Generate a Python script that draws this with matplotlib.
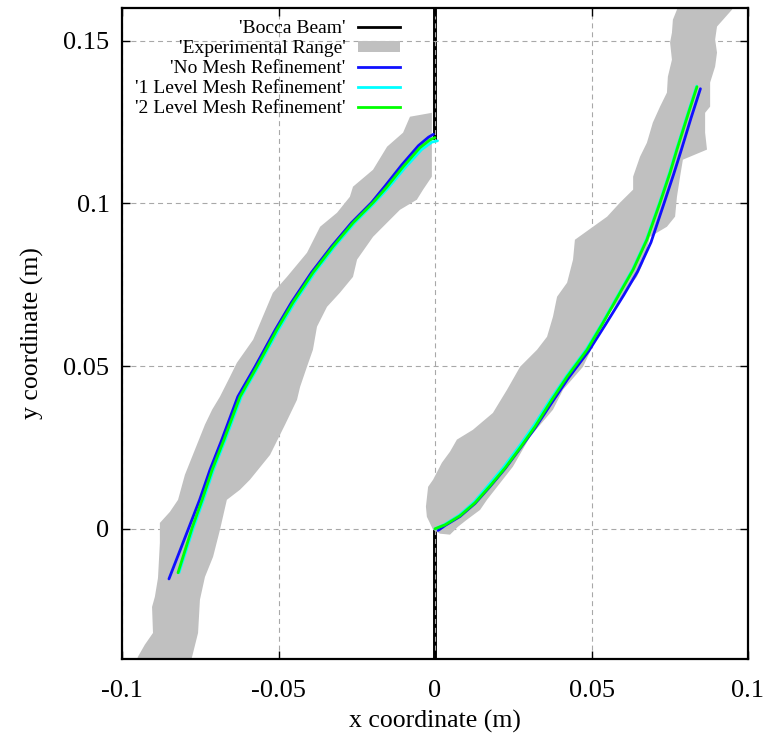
#!/usr/bin/env python3
"""
plot.py

Beam deflection: simulated centre lines (three mesh levels) against the
experimental envelope, with the Bocca beam stub at x = 0.
Writes out.png.
"""

import numpy as np
import matplotlib
matplotlib.use("Agg")
import matplotlib.pyplot as plt
from matplotlib.patches import Polygon, Patch
from matplotlib.lines import Line2D

# ---------------------------------------------------------------- data (m)
# Bocca beam stub (two visible pieces on x = 0)
beam_x = [0.0, 0.0, np.nan, 0.0, 0.0]
beam_y = [-0.045, 0.0, np.nan, 0.120, 0.165]

# experimental envelope, left lobe (outline, closed)
exp_left_x = [-0.0958, -0.0949, -0.0927, -0.0901, -0.0904, -0.0895, -0.0885, -0.0879,
              -0.0879, -0.0847, -0.0821, -0.0799, -0.0767, -0.0735, -0.0712, -0.0687,
              -0.0655, -0.0633, -0.0581, -0.0550, -0.0518, -0.0473, -0.0409, -0.0367,
              -0.0313, -0.0272, -0.0262, -0.0198, -0.0153, -0.0102, -0.0080, -0.0010,
              -0.0010, -0.0038, -0.0058, -0.0112, -0.0166, -0.0198, -0.0249, -0.0262,
              -0.0304, -0.0345, -0.0377, -0.0390, -0.0409, -0.0431, -0.0441, -0.0479,
              -0.0527, -0.0591, -0.0623, -0.0665, -0.0687, -0.0709, -0.0735, -0.0751,
              -0.0757, -0.0776, -0.0783]
exp_left_y = [-0.0418, -0.0393, -0.0356, -0.0320, -0.0240, -0.0209, -0.0151, -0.0043,
              0.0018, 0.0052, 0.0089, 0.0166, 0.0243, 0.0320, 0.0366, 0.0406,
              0.0467, 0.0510, 0.0581, 0.0652, 0.0725, 0.0774, 0.0848, 0.0928,
              0.0971, 0.1020, 0.1051, 0.1103, 0.1174, 0.1217, 0.1266, 0.1278,
              0.1082, 0.1042, 0.1011, 0.0980, 0.0928, 0.0897, 0.0827, 0.0774,
              0.0725, 0.0682, 0.0621, 0.0550, 0.0498, 0.0436, 0.0396, 0.0320,
              0.0227, 0.0151, 0.0120, 0.0089, -0.0003, -0.0086, -0.0148, -0.0218,
              -0.0320, -0.0393, -0.0418]

# experimental envelope, right lobe (outline, closed)
exp_right_x = [-0.0006, -0.0026, -0.0029, -0.0022, -0.0006, 0.0022, 0.0048, 0.0070,
               0.0121, 0.0185, 0.0230, 0.0272, 0.0326, 0.0358, 0.0377, 0.0390,
               0.0422, 0.0441, 0.0447, 0.0505, 0.0550, 0.0591, 0.0633, 0.0633,
               0.0655, 0.0677, 0.0696, 0.0719, 0.0741, 0.0744, 0.0757, 0.0751,
               0.0757, 0.0760, 0.0773, 0.0776, 0.0958,
               0.0949, 0.0901, 0.0895, 0.0901, 0.0895, 0.0879, 0.0879, 0.0863,
               0.0863, 0.0869, 0.0792, 0.0783, 0.0773, 0.0767, 0.0741, 0.0687,
               0.0665, 0.0645, 0.0613, 0.0559, 0.0518, 0.0473, 0.0409, 0.0377,
               0.0304, 0.0249, 0.0166, 0.0144, 0.0102, 0.0073, 0.0048, 0.0016]
exp_right_y = [-0.0003, 0.0037, 0.0068, 0.0129, 0.0151, 0.0203, 0.0237, 0.0274,
               0.0304, 0.0356, 0.0427, 0.0498, 0.0550, 0.0590, 0.0652, 0.0713,
               0.0756, 0.0827, 0.0888, 0.0928, 0.0959, 0.1002, 0.1042, 0.1082,
               0.1143, 0.1186, 0.1248, 0.1297, 0.1340, 0.1389, 0.1441, 0.1494,
               0.1524, 0.1564, 0.1595, 0.1626, 0.1626,
               0.1595, 0.1543, 0.1503, 0.1463, 0.1420, 0.1371, 0.1297, 0.1278,
               0.1217, 0.1165, 0.1134, 0.1082, 0.1020, 0.0959, 0.0928, 0.0897,
               0.0817, 0.0774, 0.0734, 0.0664, 0.0590, 0.0498, 0.0427, 0.0366,
               0.0283, 0.0191, 0.0089, 0.0058, 0.0028, 0.0006, -0.0018, -0.0015]

# no mesh refinement
nomesh_left_x = [-0.0850, -0.0789, -0.0752, -0.0719, -0.0681, -0.0630, -0.0575, -0.0510,
                 -0.0459, -0.0395, -0.0331, -0.0267, -0.0203, -0.0158, -0.0107, -0.0053,
                 -0.0021, -0.0005]
nomesh_left_y = [-0.0154, -0.0003, 0.0089, 0.0181, 0.0274, 0.0406, 0.0498, 0.0612,
                 0.0695, 0.0787, 0.0867, 0.0940, 0.1002, 0.1055, 0.1117, 0.1177,
                 0.1203, 0.1212]
nomesh_right_x = [0.0010, 0.0032, 0.0080, 0.0128, 0.0176, 0.0224, 0.0272, 0.0320,
                  0.0370, 0.0426, 0.0491, 0.0545, 0.0603, 0.0647, 0.0690, 0.0730,
                  0.0762, 0.0785, 0.0818, 0.0848]
nomesh_right_y = [-0.0005, 0.0010, 0.0038, 0.0078, 0.0130, 0.0185, 0.0247, 0.0310,
                  0.0383, 0.0463, 0.0546, 0.0628, 0.0718, 0.0790, 0.0880, 0.0995,
                  0.1088, 0.1158, 0.1262, 0.1352]

# 1 level mesh refinement
lvl1_left_x = [-0.0818, -0.0772, -0.0740, -0.0708, -0.0670, -0.0619, -0.0565, -0.0500,
               -0.0449, -0.0385, -0.0321, -0.0257, -0.0193, -0.0148, -0.0097, -0.0043,
               -0.0010, 0.0008]
lvl1_left_y = [-0.0135, 0.0003, 0.0089, 0.0181, 0.0274, 0.0406, 0.0498, 0.0612,
               0.0695, 0.0787, 0.0867, 0.0940, 0.1002, 0.1049, 0.1108, 0.1165,
               0.1188, 0.1192]
lvl1_right_x = [0.0000, 0.0030, 0.0078, 0.0125, 0.0172, 0.0220, 0.0268, 0.0315,
                0.0364, 0.0420, 0.0484, 0.0536, 0.0590, 0.0632, 0.0676, 0.0718,
                0.0750, 0.0772, 0.0807, 0.0836]
lvl1_right_y = [0.0000, 0.0013, 0.0042, 0.0082, 0.0135, 0.0190, 0.0252, 0.0316,
                0.0390, 0.0469, 0.0552, 0.0635, 0.0727, 0.0798, 0.0890, 0.1004,
                0.1096, 0.1167, 0.1274, 0.1360]

# 2 level mesh refinement
lvl2_left_x = [-0.0821, -0.0776, -0.0744, -0.0712, -0.0674, -0.0623, -0.0569, -0.0505,
               -0.0454, -0.0390, -0.0326, -0.0262, -0.0198, -0.0153, -0.0102, -0.0048,
               -0.0016, 0.0000]
lvl2_left_y = [-0.0135, 0.0003, 0.0089, 0.0181, 0.0274, 0.0406, 0.0498, 0.0612,
               0.0695, 0.0787, 0.0867, 0.0940, 0.1002, 0.1051, 0.1112, 0.1171,
               0.1195, 0.1202]
lvl2_right_x = [0.0000, 0.0032, 0.0080, 0.0128, 0.0176, 0.0224, 0.0272, 0.0319,
                0.0367, 0.0422, 0.0486, 0.0537, 0.0591, 0.0633, 0.0677, 0.0719,
                0.0751, 0.0773, 0.0808, 0.0837]
lvl2_right_y = [0.0000, 0.0012, 0.0040, 0.0080, 0.0132, 0.0187, 0.0249, 0.0313,
                0.0387, 0.0467, 0.0550, 0.0633, 0.0725, 0.0796, 0.0888, 0.1002,
                0.1094, 0.1165, 0.1272, 0.1358]

labels = ["'Bocca Beam'", "'Experimental Range'", "'No Mesh Refinement'",
          "'1 Level Mesh Refinement'", "'2 Level Mesh Refinement'"]
x_ticks = [-0.1, -0.05, 0, 0.05, 0.1]
x_ticklabels = ["-0.1", "-0.05", "0", "0.05", "0.1"]
y_ticks = [0, 0.05, 0.1, 0.15]
y_ticklabels = ["0", "0.05", "0.1", "0.15"]

# ---------------------------------------------------------------- style
GREY = "#c0c0c0"
C_BLUE = "#1010ff"
C_CYAN = "#00ffff"
C_GREEN = "#00ff00"

plt.rcParams["font.family"] = ["Liberation Serif", "DejaVu Serif"]


def main() -> int:
    fig = plt.figure(figsize=(7.71, 7.49), dpi=100)
    ax = fig.add_axes([122 / 771, 1 - 659 / 749, 626 / 771, 651 / 749])

    ax.set_xlim(-0.1, 0.1)
    ax.set_ylim(-0.04, 0.16)

    # beam first, grid goes over it, envelope covers the grid
    ax.plot(beam_x, beam_y, color="black", lw=2.8, zorder=1)
    ax.grid(True, color="#a8a8a8", lw=0.8, ls=(0, (4.5, 3.5)))
    ax.set_axisbelow("line")

    for px, py in ((exp_left_x, exp_left_y), (exp_right_x, exp_right_y)):
        ax.add_patch(Polygon(np.column_stack([px, py]), closed=True,
                             facecolor=GREY, edgecolor="none", zorder=2))

    series = [
        (nomesh_left_x, nomesh_left_y, nomesh_right_x, nomesh_right_y, C_BLUE),
        (lvl1_left_x, lvl1_left_y, lvl1_right_x, lvl1_right_y, C_CYAN),
        (lvl2_left_x, lvl2_left_y, lvl2_right_x, lvl2_right_y, C_GREEN),
    ]
    for lx, ly, rx, ry, c in series:
        ax.plot(lx, ly, color=c, lw=2.0, zorder=3, solid_capstyle="round")
        ax.plot(rx, ry, color=c, lw=2.0, zorder=3, solid_capstyle="round")

    ax.set_xticks(x_ticks)
    ax.set_xticklabels(x_ticklabels)
    ax.set_yticks(y_ticks)
    ax.set_yticklabels(y_ticklabels)
    ax.tick_params(direction="in", top=True, right=True, length=6, width=1.0,
                   labelsize=19)
    ax.tick_params(axis="x", pad=15)
    ax.tick_params(axis="y", pad=9)
    for s in ax.spines.values():
        s.set_linewidth(1.6)
        s.set_zorder(5)

    ax.set_xlabel("x coordinate (m)", fontsize=18.5, labelpad=6)
    ax.set_ylabel("y coordinate (m)", fontsize=18.5, labelpad=14)

    handles = [
        Line2D([], [], color="black", lw=2.0),
        Patch(facecolor=GREY, edgecolor="none"),
        Line2D([], [], color=C_BLUE, lw=2.0),
        Line2D([], [], color=C_CYAN, lw=2.0),
        Line2D([], [], color=C_GREEN, lw=2.0),
    ]
    ax.legend(handles, labels, loc="upper right", bbox_to_anchor=(0.447, 0.984),
              frameon=False, markerfirst=False, fontsize=14, handlelength=2.15,
              handleheight=0.55, handletextpad=0.65, labelspacing=0.15,
              borderpad=0.1, borderaxespad=0.0)

    fig.savefig("out.png", dpi=100)
    plt.close(fig)
    return 0


if __name__ == "__main__":
    raise SystemExit(main())
